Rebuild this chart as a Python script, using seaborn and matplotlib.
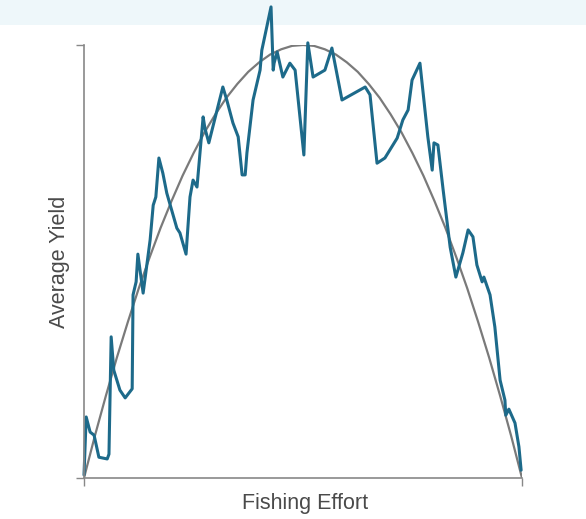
import numpy as np
import pandas as pd
import matplotlib
matplotlib.use("Agg")
import matplotlib.pyplot as plt
from matplotlib.patches import Rectangle
import seaborn as sns

# yield curve (theoretical, every 2.5 units of effort)
curve_effort = [0, 2.5, 5, 7.5, 10, 12.5, 15, 17.5, 20, 22.5, 25, 27.5,
                30, 32.5, 35, 37.5, 40, 42.5, 45, 47.5, 50,
                52.5, 55, 57.5, 60, 62.5, 65, 67.5, 70, 72.5, 75,
                77.5, 80, 82.5, 85, 87.5, 90, 92.5, 95, 97.5, 100]
curve_yield = [0, 9.8, 19, 27.8, 36, 43.8, 51, 57.8, 64, 69.8, 75, 79.8,
               84, 87.8, 91, 93.8, 96, 97.8, 99, 99.8, 100,
               99.8, 99, 97.8, 96, 93.8, 91, 87.8, 84, 79.8, 75,
               69.8, 64, 57.8, 51, 43.8, 36, 27.8, 19, 9.8, 0]

obs_effort = [0.0, 0.5, 1.4, 2.3, 3.4, 5.3, 5.7, 6.2, 6.8, 8.2, 9.4, 11.0,
              11.2, 11.9, 12.3, 13.5, 15.1, 15.8, 16.4, 17.1, 18.0, 18.9,
              21.2, 21.9, 23.3, 24.2, 24.9, 25.8, 27.2, 27.6, 28.5, 31.7,
              32.6, 34.0, 35.2, 36.1, 36.8, 37.2, 38.6, 40.2, 40.6, 42.7,
              43.2, 43.4, 44.1, 45.4, 47.0, 48.2, 50.2, 51.1, 52.3, 55.0,
              56.6, 58.9, 64.2, 65.3, 66.9, 68.7, 71.5, 72.8, 74.0, 74.9,
              76.7, 78.5, 79.5, 79.9, 80.8, 82.0, 83.6, 84.9, 86.5, 87.7,
              88.8, 89.7, 90.9, 91.3, 92.7, 93.8, 95.0, 96.1, 96.3, 97.0,
              98.4, 99.3, 99.8]
obs_yield = [0.7, 14.1, 10.6, 9.9, 4.8, 4.4, 5.5, 32.6, 24.9, 20.3, 18.5, 20.6,
             42.3, 45.3, 51.7, 42.7, 55.0, 63.0, 64.9, 73.9, 70.4, 65.8,
             57.7, 56.6, 51.7, 64.9, 68.8, 67.2, 83.4, 80.8, 77.4, 90.3,
             87.3, 82.0, 78.8, 70.0, 70.0, 75.1, 87.3, 94.2, 98.8, 108.8,
             94.2, 95.8, 98.4, 92.6, 95.8, 94.2, 74.6, 100.5, 92.6, 94.2,
             99.3, 87.3, 90.3, 88.5, 72.7, 73.9, 78.5, 82.7, 85.0, 91.9,
             95.8, 78.8, 71.1, 77.4, 76.9, 66.5, 53.3, 46.4, 52.0, 57.3,
             55.7, 49.2, 45.3, 46.4, 42.3, 34.9, 22.6, 18.0, 14.5, 15.9,
             12.7, 7.2, 1.8]

curve_df = pd.DataFrame({'effort': curve_effort, 'yield': curve_yield})
obs_df = pd.DataFrame({'effort': obs_effort, 'yield': obs_yield})

sns.set_style("ticks")
plt.rcParams['font.family'] = ['Liberation Sans', 'DejaVu Sans']

fig = plt.figure(figsize=(5.86, 5.19), dpi=100)
fig.patch.set_facecolor('white')
# light band across the top
fig.patches.append(Rectangle((0, 1 - 25/519), 1, 25/519, transform=fig.transFigure,
                             facecolor='#eef7fa', edgecolor='none', zorder=-1))

ax = fig.add_axes([84/586, 41/519, 438/586, 433/519])
ax.patch.set_alpha(0)

sns.lineplot(x='effort', y='yield', data=curve_df, ax=ax, color='#7a7a7a',
             linewidth=1.6, sort=False, estimator=None)
sns.lineplot(x='effort', y='yield', data=obs_df, ax=ax, color='#1d6a8a',
             linewidth=2.2, sort=False, estimator=None, clip_on=False,
             solid_joinstyle='round', solid_capstyle='round')

ax.set_xlim(0, 100)
ax.set_ylim(0, 100)
ax.set_xticks([0, 100])
ax.set_yticks([0, 100])
ax.set_xticklabels([])
ax.set_yticklabels([])
ax.tick_params(length=6, width=1, color='#888888')
for s in ['left', 'bottom']:
    ax.spines[s].set_color('#888888')
    ax.spines[s].set_linewidth(1.2)
sns.despine(ax=ax)

ax.set_xlabel("Fishing Effort", fontsize=15.5, color='#4a4a4a', va='center')
ax.set_ylabel("Average Yield", fontsize=15.5, color='#4a4a4a', va='center')
ax.xaxis.set_label_coords(0.505, -0.058)
ax.yaxis.set_label_coords(-0.057, 0.499)

fig.savefig('out.png', dpi=100)
